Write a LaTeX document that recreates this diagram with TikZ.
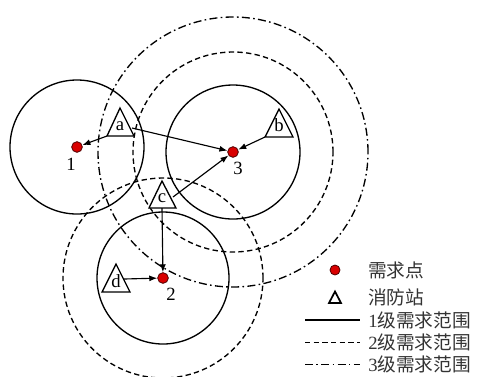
\documentclass[tikz,border=0pt]{standalone}
\usepackage{fontspec}
\setmainfont{Liberation Serif}
\newfontfamily\cjk{Noto Sans CJK SC}
\usetikzlibrary{arrows.meta}
\tikzset{
  dem/.style={circle,draw=black!70!red,line width=0.6pt,fill=red!85!black,inner sep=0pt,minimum size=8pt},
  lvlone/.style={line width=1pt},
  lvltwo/.style={line width=1pt,dash pattern=on 4pt off 2.5pt},
  lvlthree/.style={line width=1pt,dash pattern=on 6pt off 2.5pt on 1.2pt off 2.5pt},
  tri/.style={line width=1pt,line join=miter},
  arr/.style={line width=0.85pt,-{Latex[length=6pt,width=4.5pt]}},
  lab/.style={inner sep=0pt,font=\fontsize{14}{14}\selectfont},
  letter/.style={inner sep=0pt,font=\fontsize{14}{14}\selectfont},
  legtxt/.style={anchor=west,inner sep=0pt,font=\fontsize{14}{15}\selectfont,text=black!80}
}
\begin{document}
\begin{tikzpicture}[x=0.75pt,y=-0.75pt]
\useasboundingbox (0,0) rectangle (477,376);
% demand points
\node[dem] (p1) at (77,147) {};
\node[dem] (p2) at (163,278) {};
\node[dem] (p3) at (233,152) {};
\node[lab] (l1) at (71,164) {1};
\node[lab] (l2) at (171,294) {2};
\node[lab] (l3) at (238,168) {3};
% ranges
\draw[lvlone] (p1) circle[radius=67*0.75pt];
\draw[lvlone] (p3) circle[radius=67*0.75pt];
\draw[lvlone] (p2) circle[radius=66*0.75pt];
\draw[lvltwo] (p2) circle[radius=100*0.75pt];
\draw[lvltwo] (p3) circle[radius=100*0.75pt];
\draw[lvlthree] (p3) circle[radius=135*0.75pt];
% stations
\coordinate (aT) at (120,108); \coordinate (aL) at (107,136); \coordinate (aR) at (134,136);
\coordinate (bT) at (279,109); \coordinate (bL) at (265,137); \coordinate (bR) at (293,137);
\coordinate (cT) at (162,181); \coordinate (cL) at (149,208); \coordinate (cR) at (176,208);
\coordinate (dT) at (116,264); \coordinate (dL) at (102,292); \coordinate (dR) at (130,292);
\filldraw[tri,fill=white] (aT) -- (aL) -- (aR) -- cycle;
\filldraw[tri,fill=white] (bT) -- (bL) -- (bR) -- cycle;
\filldraw[tri,fill=white] (cT) -- (cL) -- (cR) -- cycle;
\filldraw[tri,fill=white] (dT) -- (dL) -- (dR) -- cycle;
\node[letter] (a) at (120,126.5) {a};
\node[letter] (b) at (279,125.5) {b};
\node[letter] (c) at (162,198) {c};
\node[letter] (d) at (116,281.5) {d};
\coordinate (aS) at (132,128);
\coordinate (cS) at (173,197);
\coordinate (cB) at (162,208);
\coordinate (dS) at (124,279);
% assignments
\draw[arr] (aL) -- (p1);
\draw[arr] (aS) -- (p3);
\draw[arr] (bL) -- (p3);
\draw[arr] (cS) -- (p3);
\draw[arr] (cB) -- (p2);
\draw[arr] (dS) -- (p2);
% legend
\node[dem,minimum size=7.5pt] (kdot) at (335,270) {};
\coordinate (kT) at (335,291.5); \coordinate (kL) at (329,303); \coordinate (kR) at (341,303);
\draw[line width=1.3pt,line join=miter] (kT) -- (kL) -- (kR) -- cycle;
\coordinate (s1a) at (305,320); \coordinate (s1b) at (360,320);
\coordinate (s2a) at (305,342.5); \coordinate (s2b) at (360,342.5);
\coordinate (s3a) at (305,364.5); \coordinate (s3b) at (360,364.5);
\draw[lvlone] (s1a) -- (s1b);
\draw[lvltwo] (s2a) -- (s2b);
\draw[lvlthree] (s3a) -- (s3b);
\node[legtxt] (t0) at (368,270) {\cjk 需求点};
\node[legtxt] (t1) at (368,297) {\cjk 消防站};
\node[legtxt] (t2) at (368,320) {1{\cjk 级需求范围}};
\node[legtxt] (t3) at (368,342.5) {2{\cjk 级需求范围}};
\node[legtxt] (t4) at (368,364.5) {3{\cjk 级需求范围}};
\end{tikzpicture}
\end{document}
